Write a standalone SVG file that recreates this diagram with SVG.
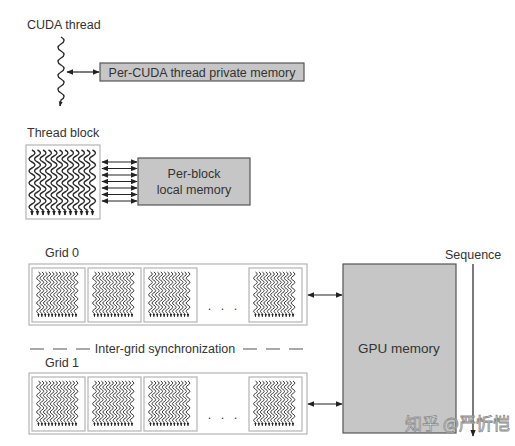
<svg xmlns="http://www.w3.org/2000/svg" xmlns:xlink="http://www.w3.org/1999/xlink" width="515" height="446" viewBox="0 0 515 446">
<style>
text{font-family:"Liberation Sans",Arial,sans-serif;font-size:12.5px;fill:#333}
.mem{fill:#c6c6c6;stroke:#555;stroke-width:1.2}
.frame{fill:#fff;stroke:#b4b4b4;stroke-width:1.2}
.wave{fill:none;stroke:#2a2a2a;stroke-width:1.4}
.conn{stroke:#222;stroke-width:1.2;fill:none}
.dash{stroke:#555;stroke-width:1.2;stroke-dasharray:14,9;fill:none}
</style>
<defs>
<marker id="ah" viewBox="0 0 10 8" refX="9" refY="4" markerWidth="7" markerHeight="5.5" orient="auto-start-reverse" markerUnits="userSpaceOnUse">
<path d="M0,0 L10,4 L0,8 z" fill="#222"/>
</marker>
<marker id="ahs" viewBox="0 0 10 8" refX="9" refY="4" markerWidth="5" markerHeight="4.5" orient="auto" markerUnits="userSpaceOnUse">
<path d="M0,0 L10,4 L0,8 z" fill="#222"/>
</marker>
<path id="w" class="wave" marker-end="url(#ahs)" d="M0,0 q6,3 0,6 t0,6 t0,6 t0,6 t0,6 t0,6 t0,6 t0,6 t0,6 t0,6 l0,5"/>
<g id="threads">
<use xlink:href="#w" x="4"/>
<use xlink:href="#w" x="9.5"/>
<use xlink:href="#w" x="15"/>
<use xlink:href="#w" x="20.5"/>
<use xlink:href="#w" x="26"/>
<use xlink:href="#w" x="31.5"/>
<use xlink:href="#w" x="37"/>
<use xlink:href="#w" x="42.5"/>
<use xlink:href="#w" x="48"/>
<use xlink:href="#w" x="53.5"/>
<use xlink:href="#w" x="59"/>
<use xlink:href="#w" x="64.5"/>
</g>
<g id="mini">
<rect class="frame" x="0" y="0" width="53" height="54"/>
<use xlink:href="#threads" transform="translate(4,4) scale(0.62,0.69)"/>
</g>
</defs>

<g id="cuda-thread">
<text x="27" y="29">CUDA thread</text>
<path class="wave" marker-end="url(#ahs)" d="M61,37 q6,3.5 0,7 t0,7 t0,7 t0,7 t0,7 t0,7 t0,7 t0,7 t0,7 l-1,6"/>
</g>

<g id="private-memory">
<rect class="mem" x="100" y="63" width="204" height="18"/>
<text x="202" y="76.5" text-anchor="middle">Per-CUDA thread private memory</text>
</g>

<g id="thread-block">
<text x="27" y="137">Thread block</text>
<rect class="frame" x="26" y="145" width="74" height="74"/>
<use xlink:href="#threads" transform="translate(28,150)"/>
</g>

<g id="local-memory">
<rect class="mem" x="138" y="158" width="112" height="47"/>
<text x="194" y="178" text-anchor="middle">Per-block</text>
<text x="194" y="194" text-anchor="middle">local memory</text>
</g>

<g id="grid0">
<text x="45" y="257">Grid 0</text>
<rect class="frame" x="29" y="264" width="278" height="61"/>
<use xlink:href="#mini" x="32" y="268"/>
<use xlink:href="#mini" x="88" y="268"/>
<use xlink:href="#mini" x="144" y="268"/>
<use xlink:href="#mini" x="249" y="268"/>
<text x="224" y="310" text-anchor="middle" letter-spacing="3">. . .</text>
</g>

<g id="sync">
<path class="dash" d="M30,349 H92"/>
<text x="165" y="353" text-anchor="middle">Inter-grid synchronization</text>
<path class="dash" d="M243,349 H305"/>
</g>

<g id="grid1">
<text x="45" y="367">Grid 1</text>
<rect class="frame" x="29" y="373" width="278" height="61"/>
<use xlink:href="#mini" x="32" y="377"/>
<use xlink:href="#mini" x="88" y="377"/>
<use xlink:href="#mini" x="144" y="377"/>
<use xlink:href="#mini" x="249" y="377"/>
<text x="224" y="419" text-anchor="middle" letter-spacing="3">. . .</text>
</g>

<g id="gpu-memory">
<rect class="mem" x="343" y="264" width="113" height="169"/>
<text x="399" y="353" text-anchor="middle" style="font-size:13.5px">GPU memory</text>
</g>

<g id="sequence">
<text x="445" y="259">Sequence</text>
<path class="conn" marker-end="url(#ah)" d="M473,264 V436"/>
</g>

<g id="connectors">
<path class="conn" marker-start="url(#ah)" marker-end="url(#ah)" d="M67,72 H99"/>
<path class="conn" marker-start="url(#ah)" marker-end="url(#ah)" d="M102,162 H137"/>
<path class="conn" marker-start="url(#ah)" marker-end="url(#ah)" d="M102,168.5 H137"/>
<path class="conn" marker-start="url(#ah)" marker-end="url(#ah)" d="M102,175 H137"/>
<path class="conn" marker-start="url(#ah)" marker-end="url(#ah)" d="M102,181.5 H137"/>
<path class="conn" marker-start="url(#ah)" marker-end="url(#ah)" d="M102,188 H137"/>
<path class="conn" marker-start="url(#ah)" marker-end="url(#ah)" d="M102,194.5 H137"/>
<path class="conn" marker-start="url(#ah)" marker-end="url(#ah)" d="M102,201 H137"/>
<path class="conn" marker-start="url(#ah)" marker-end="url(#ah)" d="M308,295 H342"/>
<path class="conn" marker-start="url(#ah)" marker-end="url(#ah)" d="M308,404 H342"/>
</g>

<g id="watermark">
<text x="405" y="430" style="font-family:'Noto Sans CJK SC',sans-serif;font-size:17px;fill:#fff;stroke:#8a8a8a;stroke-width:0.8">知乎 @严忻恺</text>
</g>
</svg>
